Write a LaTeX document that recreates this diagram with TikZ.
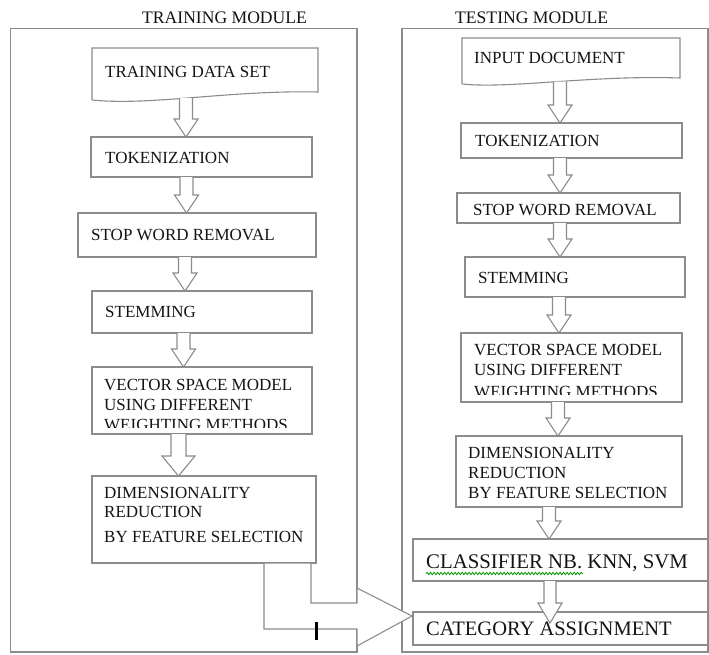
\documentclass[tikz,border=0pt]{standalone}
\usepackage{fontspec}
\setmainfont{Liberation Serif}
\usetikzlibrary{calc,decorations.pathmorphing}
\definecolor{edge}{HTML}{8C8C8C}
\definecolor{ink}{HTML}{141414}
\newcommand\mkbox[5]{%
  \node[box, anchor=north west, minimum width={(#4-#2)*1pt}, minimum height={(#5-#3)*1pt}] (#1) at (#2,#3) {};}
\newcommand\mkghost[5]{%
  \node[draw=none, inner sep=0pt, outer sep=0pt, anchor=north west, minimum width={(#4-#2)*1pt}, minimum height={(#5-#3)*1pt}] (#1) at (#2,#3) {};}
\tikzset{
  box/.style={draw=edge, line width=1.1pt, inner sep=0pt, outer sep=0pt},
  frame/.style={draw=edge, line width=1.1pt},
  txt/.style={anchor=base west, inner sep=0pt, text=ink, font=\fontsize{17}{20}\selectfont},
  bigtxt/.style={txt, font=\fontsize{20.8}{24}\selectfont},
  titletxt/.style={txt, font=\fontsize{17.6}{20}\selectfont},
  blk/.style n args={3}{fill=white, draw=edge, line width=1.1pt,
    to path={let \p1=(\tikztostart), \p2=(\tikztotarget) in
      (\x1-#1pt,\y1) -- (\x1-#1pt,\y2+#3pt) -- (\x1-#2pt,\y2+#3pt) -- (\x1,\y2)
      -- (\x1+#2pt,\y2+#3pt) -- (\x1+#1pt,\y2+#3pt) -- (\x1+#1pt,\y1)}},
  arr/.style={blk={6.5}{12}{18}}
}
\begin{document}
\begin{tikzpicture}[x=1pt,y=-1pt]
\useasboundingbox (0,0) rectangle (709,654);
\fill[white] (0,0) rectangle (709,654);

% module frames and titles
\draw[frame] (10.5,28.5) rectangle (357,652);
\draw[frame] (402,28.5) rectangle (708,652);
\node[titletxt] (ttrain) at (142,23) {TRAINING MODULE};
\node[titletxt] (ttest) at (455,23) {TESTING MODULE};

% ---------------- training module ----------------
\mkghost{tds}{92}{48}{318}{100}
\draw[frame] (tds.south west) -- (tds.north west) -- (tds.north east) -- (318,92)
  .. controls (230,90) and (150,106) .. (tds.south west);
\node[txt] (t-tds) at (105,77) {TRAINING DATA SET};

\mkbox{tok1}{91}{137}{312}{177}
\node[txt] (t-tok1) at (105,163) {TOKENIZATION};
\mkbox{swr1}{78}{213}{316}{257}
\node[txt] (t-swr1) at (91,240) {STOP WORD REMOVAL};
\mkbox{stem1}{92}{291}{312}{333}
\node[txt] (t-stem1) at (105,317) {STEMMING};
\mkbox{vsm1}{92}{367}{312}{434}
\node[txt] (t-vsm1a) at (104,390) {VECTOR SPACE MODEL};
\node[txt] (t-vsm1b) at (104,410) {USING DIFFERENT};
\begin{scope}
  \clip (92,367) rectangle (312,427);
  \node[txt] (t-vsm1c) at (104,430) {WEIGHTING METHODS};
\end{scope}
\mkbox{dim1}{92}{476}{316}{563}
\node[txt] (t-dim1a) at (104,498) {DIMENSIONALITY};
\node[txt] (t-dim1b) at (104,517) {REDUCTION};
\node[txt] (t-dim1c) at (104,542) {BY FEATURE SELECTION};

\draw[arr] ([xshift=-19pt,yshift=2pt]tds.south) to (tok1.north);
\draw[arr] ([xshift=-15pt]tok1.south) to (swr1.north);
\draw[arr] ([xshift=-12pt]swr1.south) to (stem1.north);
\draw[arr] ([xshift=-18.5pt]stem1.south) to (vsm1.north);
\draw[blk={7.5}{16.5}{20}] ([xshift=-23.5pt]vsm1.south) to (dim1.north);

% ---------------- testing module ----------------
\mkghost{idoc}{462}{38}{680}{84}
\draw[frame] (idoc.south west) -- (idoc.north west) -- (idoc.north east) -- (680,78)
  .. controls (590,75) and (510,89) .. (idoc.south west);
\node[txt] (t-idoc) at (474,63) {INPUT DOCUMENT};

\mkbox{tok2}{461}{123}{682}{158}
\node[txt] (t-tok2) at (475,146) {TOKENIZATION};
\mkbox{swr2}{457}{193}{680}{223}
\node[txt] (t-swr2) at (473,215) {STOP WORD REMOVAL};
\mkbox{stem2}{465}{257}{685}{297}
\node[txt] (t-stem2) at (478,283) {STEMMING};
\mkbox{vsm2}{461}{333}{682}{402}
\node[txt] (t-vsm2a) at (474,355) {VECTOR SPACE MODEL};
\node[txt] (t-vsm2b) at (474,375) {USING DIFFERENT};
\begin{scope}
  \clip (461,333) rectangle (682,394);
  \node[txt] (t-vsm2c) at (474,397) {WEIGHTING METHODS};
\end{scope}
\mkbox{dim2}{456}{436}{682}{507}
\node[txt] (t-dim2a) at (468,458) {DIMENSIONALITY};
\node[txt] (t-dim2b) at (468,478) {REDUCTION};
\node[txt] (t-dim2c) at (468,498) {BY FEATURE SELECTION};
\mkbox{cls}{413}{539}{708}{581}
\node[bigtxt] (t-cls) at (426,568) {CLASSIFIER NB. KNN, SVM};
\draw[green!60!black, line width=0.8pt, decorate,
      decoration={snake, amplitude=1.2pt, segment length=3.5pt}] (426,573.5) -- (583,573.5);
\mkbox{cat}{413}{612}{708}{645}
\node[bigtxt, font=\fontsize{20.5}{24}\selectfont] (t-cat) at (426,635) {CATEGORY ASSIGNMENT};

\draw[arr] ([xshift=-11pt,yshift=2.5pt]idoc.south) to (tok2.north);
\draw[arr] ([xshift=-11.5pt]tok2.south) to (swr2.north);
\draw[arr] ([xshift=-8.5pt]swr2.south) to (stem2.north);
\draw[arr] ([xshift=-16pt]stem2.south) to (vsm2.north);
\draw[arr] ([xshift=-13.5pt]vsm2.south) to (dim2.north);
\draw[arr] ([xshift=-20pt]dim2.south) to (cls.north);
\draw[blk={6}{12}{20}] ([xshift=-10.5pt]cls.south) to ([yshift=-11pt]cat.north);

% ---------------- training -> testing connector ----------------
\coordinate (tip) at ([xshift=-1pt,yshift=12.5pt]cat.west);
\filldraw[fill=white, draw=edge, line width=1.1pt]
  ([xshift=107pt]dim1.south) |- (357,603) -- (357,588) -- (tip)
  -- (357,646) -- (357,629) -| ([xshift=60pt]dim1.south) -- cycle;
\draw[black, line width=3pt] (316,622) -- (316,640);
\end{tikzpicture}
\end{document}
